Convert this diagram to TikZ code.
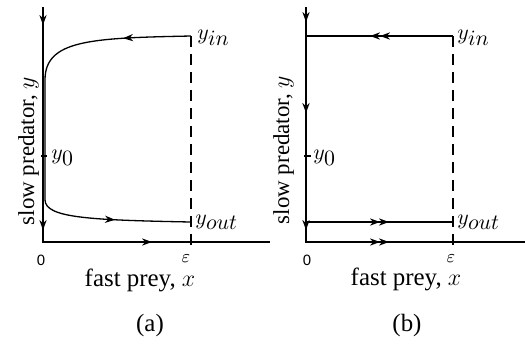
\documentclass[tikz,border=0pt]{standalone}
\usepackage{fontspec}
\setmainfont{Liberation Serif}
\newfontfamily\zerofont{Liberation Sans}
\usetikzlibrary{arrows.meta,decorations.markings}
\begin{document}
\begin{tikzpicture}[x=0.5bp,y=-0.5bp,
  myarr/.tip={Stealth[length=5bp,width=3.6bp,inset=1.6bp]},
  axisline/.style={line width=0.65bp, line join=miter},
  traj/.style={line width=0.65bp},
  thicktraj/.style={line width=1.3bp},
  guide/.style={line width=0.6bp, dash pattern=on 5.5bp off 3.5bp},
  tick/.style={line width=0.6bp},
  mlabel/.style={inner sep=0pt, font=\fontsize{11}{13}\selectfont},
  txtlabel/.style={inner sep=0pt, font=\fontsize{12.5}{15}\selectfont},
  ylabel/.style={inner sep=0pt, font=\fontsize{11.5}{13}\selectfont},
  zerolabel/.style={inner sep=0pt, font=\zerofont\fontsize{7.5}{9}\selectfont},
  epslabel/.style={inner sep=0pt, font=\fontsize{9}{11}\selectfont},
  tipsA/.style 2 args={postaction={decorate,decoration={markings,
     mark=at position #1 with {\arrow{myarr}},
     mark=at position #2 with {\arrow{myarr}}}}},
  tipsB/.style n args={3}{postaction={decorate,decoration={markings,
     mark=at position #1 with {\arrow{myarr}},
     mark=at position #2 with {\arrow{myarr}},
     mark=at position #3 with {\arrow{myarr}}}}},
]
\useasboundingbox (0,0) rectangle (525,349);

% ---------------- panel (a) ----------------
\coordinate (aTop) at (43,7);
\coordinate (aO) at (43,242);
\coordinate (aEnd) at (270,242);
\coordinate (aYin) at (191,36);
\coordinate (aYout) at (191,222);
\coordinate (aEpsTop) at (191,36);
\coordinate (aEpsBot) at (191,246);
\coordinate (aC1) at (45,80);
\coordinate (aC2) at (45,200);
\coordinate (aT1) at (41,156);
\coordinate (aT2) at (47,156);

\draw[axisline, tipsB={9bp}{111.5bp}{172bp}] (aTop) -- (aO) -- (aEnd);
\draw[guide] (aEpsTop) -- (aEpsBot);
\draw[tick] (aT1) -- (aT2);
\draw[traj, tipsA={34bp}{-38bp}] (aYin) .. controls (90,38) and (45,40) .. (aC1)
   -- (aC2) .. controls (45.5,218) and (90,220) .. (aYout);

\node[mlabel, anchor=base west] (aLin) at (197,39) {$y_{\textstyle in}$};
\node[mlabel, anchor=base west] (aLout) at (195,224) {$y_{\textstyle out}$};
\node[mlabel, anchor=base west] (aL0) at (51,159) {$y_{\textstyle 0}$};
\node[zerolabel] (aZero) at (41,260) {0};
\node[epslabel] (aEps) at (186,259) {$\varepsilon$};
\node[txtlabel, anchor=base] (aXlab) at (140,286) {fast prey, $x$};
\node[ylabel, anchor=base, rotate=90] (aYlab) at (34,151) {slow predator, $y$};
\node[txtlabel, anchor=base] (aCap) at (150,331) {(a)};

% ---------------- panel (b) ----------------
\coordinate (bTop) at (306,7);
\coordinate (bO) at (306,242);
\coordinate (bEnd) at (525,242);
\coordinate (bYin) at (453,36);
\coordinate (bYout) at (453,222);
\coordinate (bIn0) at (306,36);
\coordinate (bOut0) at (306,222);
\coordinate (bEpsTop) at (453,36);
\coordinate (bEpsBot) at (453,246);
\coordinate (bT1) at (304,156);
\coordinate (bT2) at (311,156);

\draw[axisline, tipsB={7.5bp}{154.5bp}{159bp}] (bTop) -- (bO) -- (bEnd);
\draw[guide] (bEpsTop) -- (bEpsBot);
\draw[tick] (bT1) -- (bT2);
\draw[thicktraj, tipsA={38.5bp}{97bp}] (bIn0) -- (bO);
\draw[traj, tipsA={36.5bp}{41.5bp}] (bYin) -- (bIn0);
\draw[traj, tipsA={37bp}{41.5bp}] (bOut0) -- (bYout);

\node[mlabel, anchor=base west] (bLin) at (457,39) {$y_{\textstyle in}$};
\node[mlabel, anchor=base west] (bLout) at (457,224) {$y_{\textstyle out}$};
\node[mlabel, anchor=base west] (bL0) at (313,159) {$y_{\textstyle 0}$};
\node[zerolabel] (bZero) at (307,260) {0};
\node[epslabel] (bEps) at (451,259) {$\varepsilon$};
\node[txtlabel, anchor=base] (bXlab) at (406,285) {fast prey, $x$};
\node[ylabel, anchor=base, rotate=90] (bYlab) at (289,150) {slow predator, $y$};
\node[txtlabel, anchor=base] (bCap) at (407,331) {(b)};
\end{tikzpicture}
\end{document}
